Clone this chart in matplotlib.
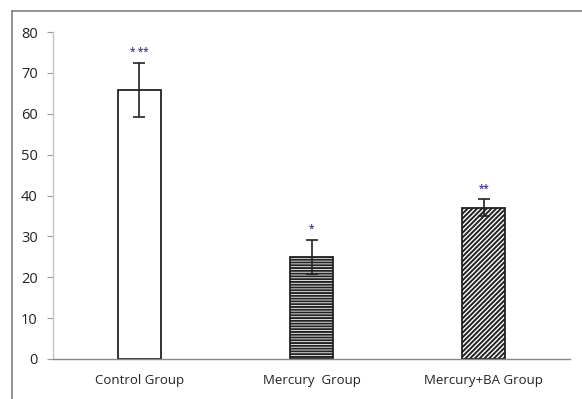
import matplotlib
matplotlib.use("Agg")
import matplotlib.pyplot as plt
from matplotlib.lines import Line2D

groups = ["Control Group", "Mercury  Group", "Mercury+BA Group"]
means = [65.8, 25.0, 37.0]
errors = [6.7, 4.2, 2.1]
stars = ["* **", "*", "**"]
hatches = ["", "------", "///////"]
yticks = [0, 10, 20, 30, 40, 50, 60, 70, 80]

plt.rcParams["font.family"] = ["Open Sans", "DejaVu Sans"]
plt.rcParams["hatch.linewidth"] = 1.4

fig = plt.figure(figsize=(5.82, 3.99), dpi=100)
ax = fig.add_axes([53 / 582, 40 / 399, 517 / 582, 327 / 399])

x = list(range(len(groups)))
for xi, m, e, h in zip(x, means, errors, hatches):
    ax.bar(xi, m, width=0.25, color="white", edgecolor="#222222",
           linewidth=1.3, hatch=h, zorder=2)
    ax.errorbar(xi, m, yerr=e, fmt="none", ecolor="#222222",
                elinewidth=1.2, capsize=4, capthick=1.2, zorder=3)

for xi, m, e, s in zip(x, means, errors, stars):
    ax.text(xi, m + e + 1.2, s, ha="center", va="bottom",
            fontsize=7, color="#4b4b9c", fontweight="bold")

ax.set_xlim(-0.5, 2.5)
ax.set_ylim(0, 80)
ax.set_yticks(yticks)
ax.set_xticks(x)
ax.set_xticklabels(groups, fontsize=9.5, color="#222222")
ax.tick_params(axis="x", length=0, pad=11)
ax.tick_params(axis="y", length=4, width=0.8, color="#999999",
               labelsize=10.5, labelcolor="#222222", pad=7)

for side in ("top", "right"):
    ax.spines[side].set_visible(False)
ax.spines["left"].set_color("#c4c4c4")
ax.spines["left"].set_linewidth(1.0)
ax.spines["bottom"].set_color("#888888")
ax.spines["bottom"].set_linewidth(1.0)

# outer chart frame (top and left edges)
fig.add_artist(Line2D([11.5 / 582, 1.0], [1 - 11 / 399, 1 - 11 / 399],
                      transform=fig.transFigure, color="#8a8a8a", lw=1.3))
fig.add_artist(Line2D([12 / 582, 12 / 582], [0, 1 - 11 / 399],
                      transform=fig.transFigure, color="#8a8a8a", lw=1.3))

fig.savefig("out.png", dpi=100)
